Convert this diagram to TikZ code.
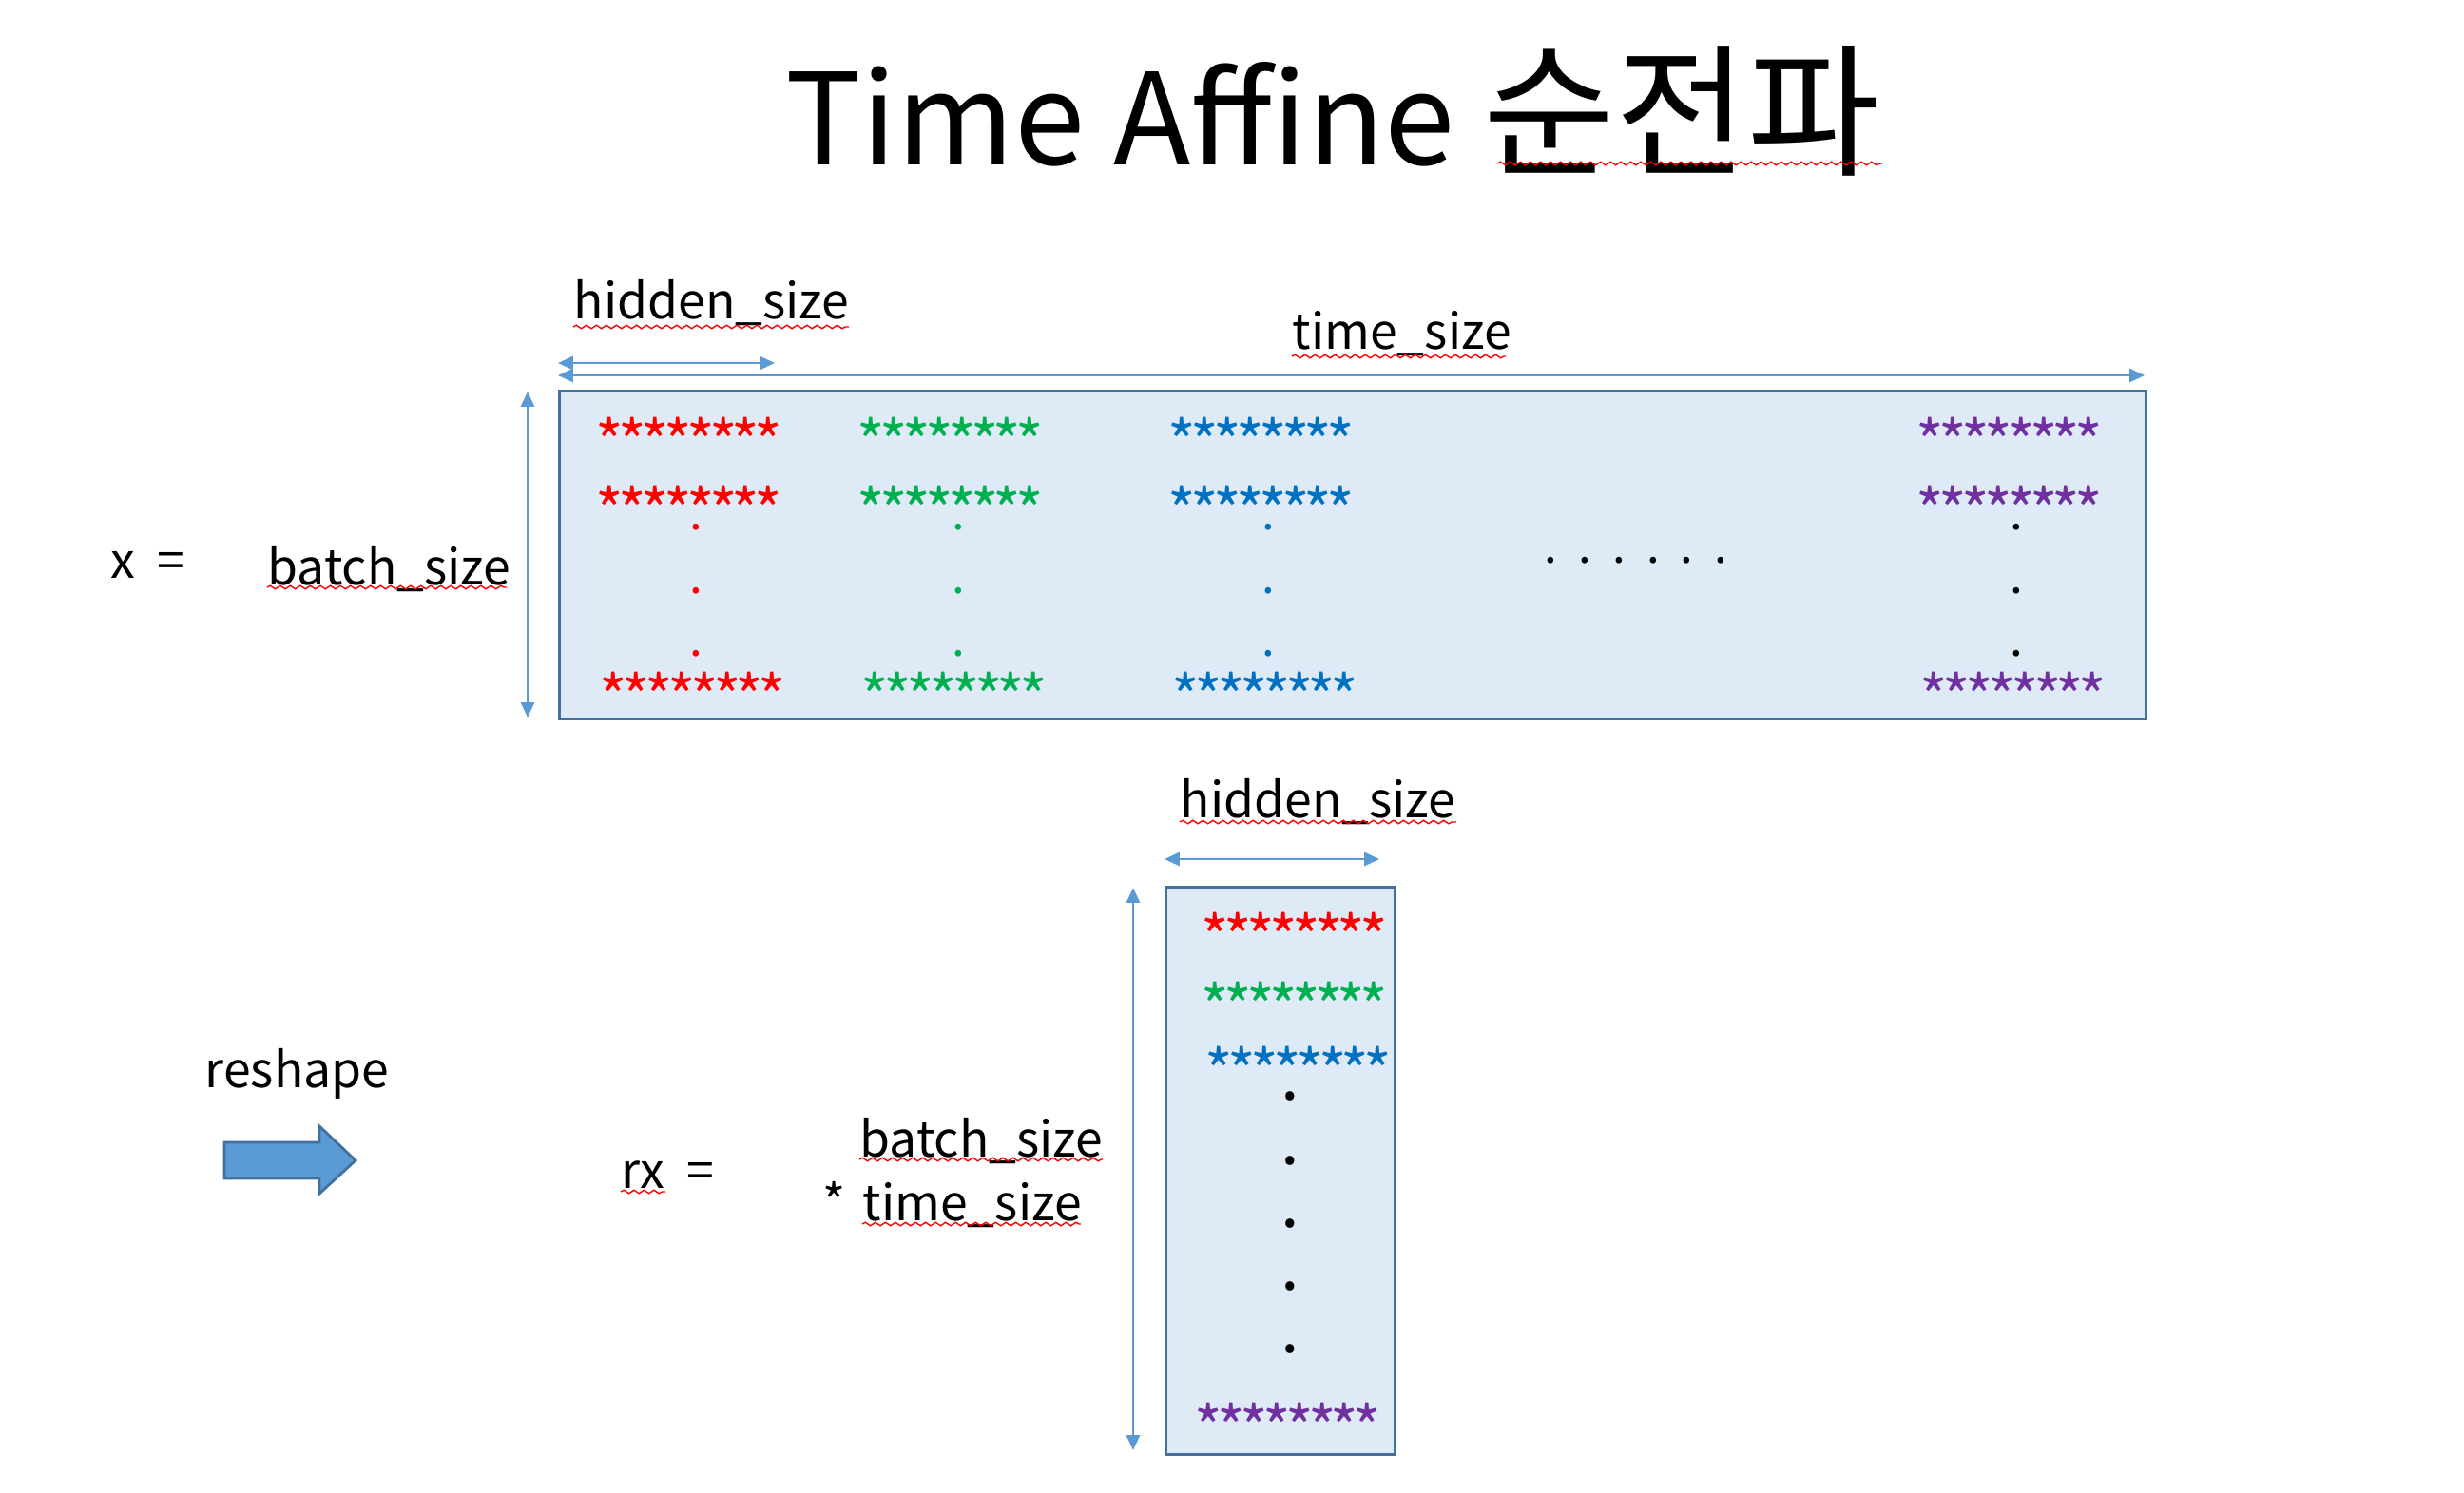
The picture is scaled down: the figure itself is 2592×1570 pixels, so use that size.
\documentclass[tikz,border=0pt]{standalone}
\usepackage{fontspec}
\setmainfont{Noto Sans CJK KR}
\newfontfamily\starfont[LetterSpace=-9]{Noto Sans CJK KR}
\usetikzlibrary{arrows.meta,decorations.pathmorphing}
\definecolor{arrowblue}{HTML}{5B9BD5}
\definecolor{boxline}{HTML}{41719C}
\definecolor{boxfill}{HTML}{DEEBF7}
\definecolor{sred}{HTML}{FF0000}
\definecolor{sgreen}{HTML}{00B050}
\definecolor{sblue}{HTML}{0070C0}
\definecolor{spurple}{HTML}{7030A0}
\begin{document}
\begin{tikzpicture}[x=0.01cm,y=-0.01cm,
  lbl/.style={inner sep=0, anchor=base west, font=\fontsize{14.7}{18}\selectfont},
  ttl/.style={inner sep=0, anchor=base west, font=\fontsize{38}{44}\selectfont},
  stars/.style={inner sep=0, anchor=base, font=\starfont\fontsize{18}{20}\selectfont},
  dotmark/.style={inner sep=0, anchor=center, font=\fontsize{14}{16}\selectfont},
  bigdot/.style={inner sep=0, anchor=center, font=\fontsize{20}{22}\selectfont},
  dims/.style={draw=arrowblue, line width=0.7pt,
    {Triangle[length=4.5pt,width=4pt]}-{Triangle[length=4.5pt,width=4pt]}},
  matrixbox/.style={draw=boxline, fill=boxfill, line width=0.9pt},
  spell/.style={draw=red, line width=0.4pt, decorate,
    decoration={snake, amplitude=0.5pt, segment length=3pt}},
]
\useasboundingbox (0,0) rectangle (2592,1570);

% title
\node[ttl] (title) at (826,174) {Time Affine {\fontsize{43}{48}\selectfont 순전파}};
\draw[spell] (1575,172) -- (1980,172);

% ---------- x : batch_size x (time_size * hidden_size) ----------
\node[matrixbox, minimum width=1669*0.01cm, minimum height=345*0.01cm,
      anchor=north west, inner sep=0] (xbox) at (587,410) {};

\node[lbl] (hidtop) at (603,336) {hidden\_size};
\draw[spell] (603,344) -- (893,344);
\node[lbl] (timelbl) at (1359,367) {time\_size};
\draw[spell] (1359,375) -- (1584,375);
\node[lbl] (xeq) at (116,608) {x \ =};
\node[lbl] (batchlbl) at (281,615) {batch\_size};
\draw[spell] (281,618) -- (533,618);

\coordinate (hidL) at (587,382);
\coordinate (hidR) at (815,382);
\coordinate (timeL) at (587,395);
\coordinate (timeR) at (2256,395);
\coordinate (batT) at (555,412);
\coordinate (batB) at (555,755);
\draw[dims] (hidL) -- (hidR);
\draw[dims] (timeL) -- (timeR);
\draw[dims] (batT) -- (batB);

% star rows of x
\foreach \c/\cx/\nm in {sred/725/r, sgreen/1000/g, sblue/1327/b, spurple/2114/p}{
  \node[stars, text=\c] (x\nm1) at (\cx,489) {********};
  \node[stars, text=\c] (x\nm2) at (\cx,561) {********};
  \node[stars, text=\c] (x\nm3) at (\cx+4,757) {********};
}
\foreach \c/\cx/\nm in {sred/732/r, sgreen/1008/g, sblue/1334/b, black/2121/p}{
  \foreach \cy/\k in {555/1, 622/2, 688/3}{
    \node[dotmark, text=\c] (d\nm\k) at (\cx,\cy) {.};
  }
}
\node[inner sep=0, anchor=center, font=\fontsize{14}{16}\selectfont] (hdots) at (1721,590) {.\ \ .\ \ .\ \ .\ \ .\ \ .};

% ---------- reshape ----------
\node[lbl] (reshape) at (215,1144) {reshape};
\draw[draw=boxline, fill=arrowblue, line width=0.8pt]
  (236,1202) -- (336,1202) -- (336,1185) -- (374,1221) -- (336,1256) -- (336,1240) -- (236,1240) -- cycle;

\node[lbl] (rxeq) at (653,1250) {rx \ =};
\draw[spell] (653,1254) -- (700,1254);
\node[lbl] (batch2) at (904,1217) {batch\_size};
\draw[spell] (904,1220) -- (1160,1220);
\node[lbl] (astr) at (865,1284) {*};
\node[lbl] (time2) at (907,1284) {time\_size};
\draw[spell] (907,1288) -- (1137,1288);

% ---------- rx : (batch_size*time_size) x hidden_size ----------
\node[matrixbox, minimum width=241*0.01cm, minimum height=597*0.01cm,
      anchor=north west, inner sep=0] (rxbox) at (1225,932) {};
\node[lbl] (hidbot) at (1241,860) {hidden\_size};
\draw[spell] (1241,865) -- (1532,865);

\coordinate (hid2L) at (1225,904);
\coordinate (hid2R) at (1451,904);
\coordinate (rowT) at (1192,934);
\coordinate (rowB) at (1192,1526);
\draw[dims] (hid2L) -- (hid2R);
\draw[dims] (rowT) -- (rowB);

\node[stars, text=sred] (rr) at (1362,1010) {********};
\node[stars, text=sgreen] (rg) at (1362,1083) {********};
\node[stars, text=sblue] (rb) at (1366,1151) {********};
\node[stars, text=spurple] (rp) at (1355,1526) {********};
\foreach \cy/\k in {1154/1, 1222/2, 1288/3, 1354/4, 1420/5}{
  \node[bigdot] (rd\k) at (1357,\cy) {.};
}
\end{tikzpicture}
\end{document}
